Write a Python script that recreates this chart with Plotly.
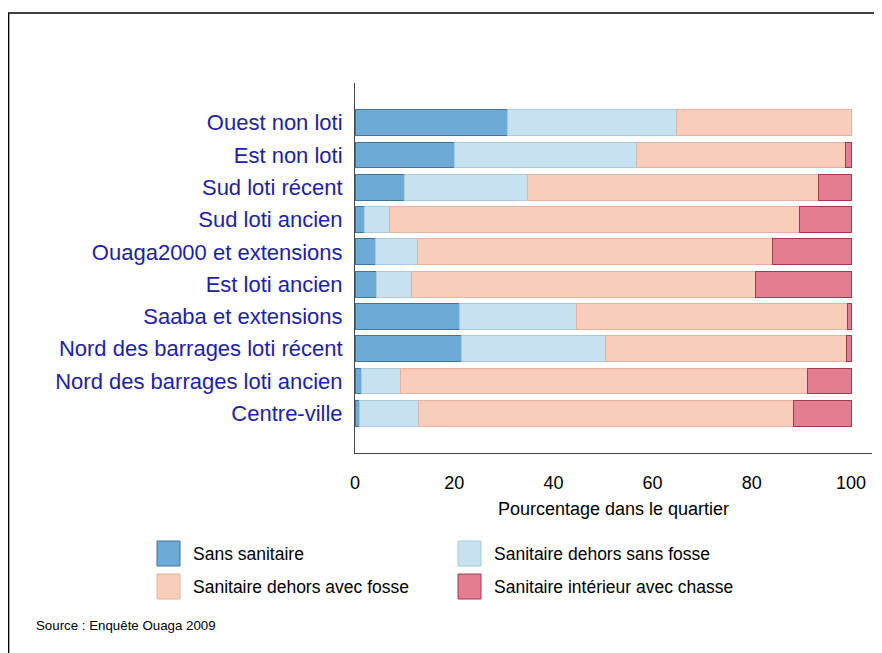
"""
Équipement sanitaire par quartier (Ouagadougou) - barres empilées horizontales
"""

import plotly.graph_objs as go

# quartiers, du haut vers le bas
quartiers = [
    "Ouest non loti",
    "Est non loti",
    "Sud loti récent",
    "Sud loti ancien",
    "Ouaga2000 et extensions",
    "Est loti ancien",
    "Saaba et extensions",
    "Nord des barrages loti récent",
    "Nord des barrages loti ancien",
    "Centre-ville",
]

# pourcentages
sans_sanitaire = [30.7, 20.0, 9.9, 2.0, 4.2, 4.4, 21.0, 21.4, 1.4, 1.0]
dehors_sans_fosse = [34.2, 36.7, 24.9, 4.9, 8.4, 6.9, 23.7, 29.2, 7.7, 11.8]
dehors_avec_fosse = [35.1, 42.1, 58.7, 82.8, 71.5, 69.5, 54.5, 48.4, 82.1, 75.7]
interieur_chasse = [0.0, 1.2, 6.5, 10.3, 15.9, 19.2, 0.8, 1.0, 8.8, 11.5]

noms_series = [
    "Sans sanitaire",
    "Sanitaire dehors sans fosse",
    "Sanitaire dehors avec fosse",
    "Sanitaire intérieur avec chasse",
]
x_ticks = [0, 20, 40, 60, 80, 100]

couleurs = ["#6EAAD6", "#C8E1F1", "#F9CDB9", "#E47D8F"]
contours = ["#41759C", "#A9C9DE", "#E3B3A0", "#A33A52"]

W, H = 882, 653
OFF = 8  # marge du body de la page html
# zone de tracé en pixels (coordonnées écran)
L, R, T, B = 355, 872, 83, 453


def px_x(px):
    return (px - L) / (R - L)


def px_y(py):
    return (B - py) / (B - T)


series = [sans_sanitaire, dehors_sans_fosse, dehors_avec_fosse, interieur_chasse]

fig = go.Figure()
for nom, vals, c, lc in zip(noms_series, series, couleurs, contours):
    fig.add_trace(go.Bar(
        name=nom,
        y=quartiers,
        x=[v if v > 0 else None for v in vals],
        orientation="h",
        marker=dict(color=c, line=dict(color=lc, width=1)),
        showlegend=False,
    ))

x_max = 100 * (R - L) / (851 - L)

fig.update_layout(
    width=W, height=H,
    margin=dict(l=L - OFF, r=W - (R - OFF), t=T - OFF, b=H - (B - OFF), pad=0),
    barmode="stack",
    bargap=0.2,
    plot_bgcolor="white",
    paper_bgcolor="white",
    font=dict(family="Liberation Sans, Arial, sans-serif", color="black"),
)

fig.update_xaxes(
    range=[0, x_max],
    tickvals=x_ticks,
    showgrid=False,
    zeroline=False,
    showline=True,
    linecolor="#444444",
    linewidth=1,
    ticks="",
    ticklabelstandoff=13,
    tickfont=dict(size=18),
    title=dict(text="Pourcentage dans le quartier", font=dict(size=18), standoff=10),
)

fig.update_yaxes(
    categoryorder="array",
    categoryarray=quartiers[::-1],
    range=[-1.23, len(quartiers) - 1 + 1.23],
    showgrid=False,
    zeroline=False,
    showline=True,
    linecolor="#444444",
    linewidth=1,
    ticks="",
    ticklabelstandoff=7,
    tickfont=dict(size=22, color="#1E1EA6"),
)

# cadre (haut et gauche)
fig.add_shape(type="line", xref="paper", yref="paper",
              x0=px_x(8), x1=px_x(W + 20), y0=px_y(13), y1=px_y(13),
              line=dict(color="black", width=1.5))
fig.add_shape(type="line", xref="paper", yref="paper",
              x0=px_x(8.6), x1=px_x(8.6), y0=px_y(13), y1=px_y(H + 20),
              line=dict(color="black", width=1.5))

# légende dessinée à la main, deux colonnes
pos_legende = [(157, 541), (458, 541), (157, 574), (458, 574)]
for nom, c, lc, (lx, ly) in zip(noms_series, couleurs, contours, pos_legende):
    fig.add_shape(type="rect", xref="paper", yref="paper",
                  x0=px_x(lx), x1=px_x(lx + 23), y0=px_y(ly), y1=px_y(ly + 25),
                  fillcolor=c, line=dict(color=lc, width=1))
    fig.add_annotation(xref="paper", yref="paper",
                       x=px_x(lx + 34), y=px_y(ly + 12.5),
                       text=nom, showarrow=False,
                       xanchor="left", yanchor="middle",
                       font=dict(size=17.5, color="black"))

fig.add_annotation(xref="paper", yref="paper",
                   x=px_x(34), y=px_y(625),
                   text="Source : Enquête Ouaga 2009", showarrow=False,
                   xanchor="left", yanchor="middle",
                   font=dict(size=13.3, color="black"))

fig.write_html("out.html")
